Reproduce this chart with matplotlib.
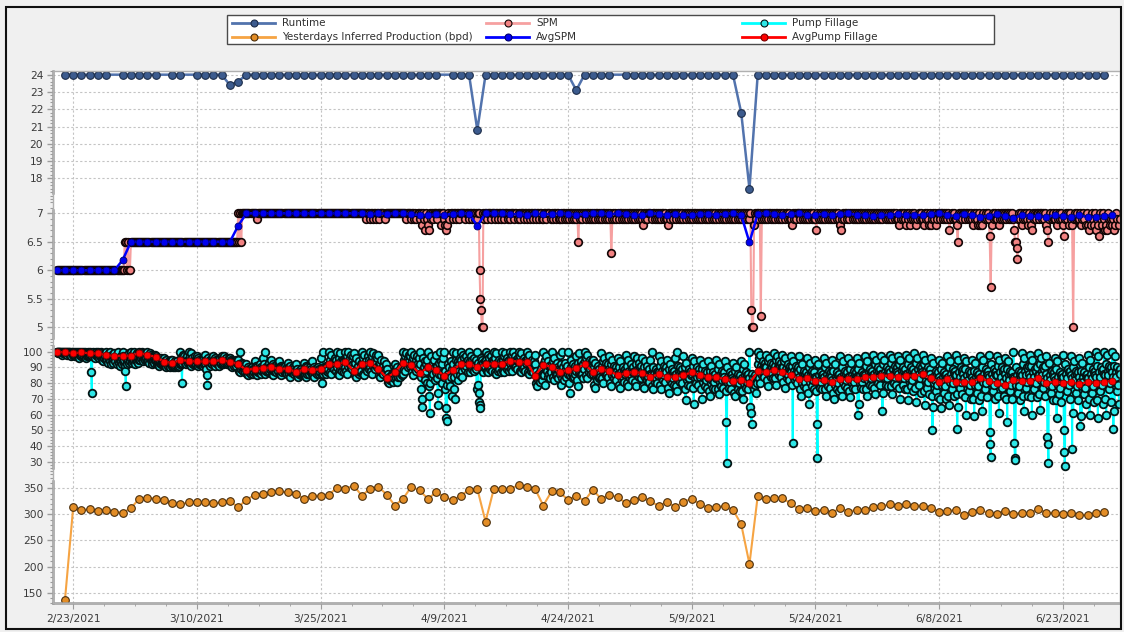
import numpy as np
import matplotlib
matplotlib.use("Agg")
import matplotlib.pyplot as plt
import matplotlib.dates as mdates
from matplotlib.lines import Line2D
from matplotlib.patches import Rectangle
from matplotlib.ticker import FixedLocator, AutoMinorLocator, FuncFormatter

# ---- data -------------------------------------------------------------
# daily series starting 2021-02-22 (None = no reading that day)
daily_start = "2021-02-22"
runtime = [
    24, 24, 24, 24, 24, 24, None, 24, 24, 24, 24, 24, None, 24, 24, None,
    24, 24, 24, 24, 23.4, 23.6, 24, 24, 24, 24, 24, 24, 24, 24, 24, 24,
    24, 24, 24, 24, 24, 24, 24, 24, 24, 24, 24, 24, 24, 24, None, 24,
    24, 24, 20.8, 24, 24, 24, 24, 24, 24, 24, 24, 24, 24, 24, 23.1, 24,
    24, 24, 24, None, 24, 24, 24, 24, 24, 24, 24, 24, 24, 24, 24, 24,
    24, 24, 21.8, 17.4, 24, 24, 24, 24, 24, 24, 24, 24, 24, 24, 24, 24,
    24, 24, 24, 24, 24, 24, 24, 24, 24, 24, 24, 24, 24, 24, 24, 24,
    24, 24, 24, 24, 24, 24, 24, 24, 24, 24, 24, 24, 24, 24, 24,
]
production = [
    136, 314, 308, 310, 306, 308, 305, 303, 312, 330, 332, 330, 327, 321,
    319, 323, 323, 323, 321, 323, 325, 314, 328, 337, 339, 342, 344, 342,
    339, 330, 336, 336, 338, 351, 349, 355, 336, 349, 353, 338, 317, 330,
    353, 346, 330, 342, 334, 327, 336, 347, 349, 286, 349, 349, 349, 356,
    353, 349, 317, 344, 342, 328, 335, 326, 347, 330, 337, 333, 322, 327,
    333, 325, 316, 324, 314, 324, 330, 320, 312, 314, 316, 309, 281, 205,
    335, 329, 331, 331, 321, 310, 312, 307, 309, 303, 312, 305, 309, 309,
    314, 316, 319, 317, 319, 317, 317, 312, 305, 306, 309, 299, 305, 308,
    303, 301, 307, 301, 303, 303, 310, 303, 303, 301, 303, 299, 299, 303,
    305,
]

# daily averages starting 2021-02-21
avg_start = "2021-02-21"
avg_spm = [
    6.0, 6.0, 6.0, 6.0, 6.0, 6.0, 6.0, 6.0, 6.18, 6.5, 6.5, 6.5, 6.5, 6.5,
    6.5, 6.5, 6.5, 6.5, 6.5, 6.5, 6.5, 6.5, 6.78, 7.0, 7.0, 7.0, 7.0, 7.0,
    7.0, 7.0, 7.0, 7.0, 7.0, 7.0, 7.0, 7.0, 7.0, 7.0, 6.98, 7.0, 6.99, 7.0,
    7.0, 6.98, 6.97, 6.97, 6.98, 6.97, 6.99, 7.0, 6.99, 6.78, 7.0, 7.0, 7.0,
    6.98, 6.99, 6.97, 7.0, 6.98, 6.99, 7.0, 6.99, 6.97, 6.99, 7.0, 7.0,
    6.98, 7.0, 6.99, 6.97, 6.97, 7.0, 6.99, 6.97, 6.99, 6.97, 6.97, 6.99,
    6.99, 6.97, 6.99, 7.0, 6.97, 6.49, 6.99, 7.0, 6.99, 6.97, 6.99, 7.0,
    6.97, 6.97, 6.99, 6.97, 6.99, 7.0, 6.97, 6.97, 6.95, 6.97, 6.97, 6.99,
    6.97, 6.97, 6.97, 6.99, 7.0, 6.97, 6.95, 6.99, 6.97, 6.94, 6.95, 6.99,
    6.95, 6.91, 6.97, 6.95, 6.95, 6.93, 6.97, 6.95, 6.93, 6.97, 6.93, 6.94,
    6.95, 6.97,
]
avg_fill = [
    100, 99.6, 98.9, 99.6, 98.9, 98.9, 97.9, 97.2, 97.5, 97.2, 99.4, 97.8,
    96.8, 93.6, 93, 94.7, 94.2, 93.8, 93.8, 94, 94.7, 93.6, 92.2, 88.3,
    89.2, 89.5, 90, 89.2, 89.2, 87.1, 88.8, 88.5, 88.8, 92.2, 91.9, 93.6,
    87.9, 92.2, 93, 89, 83.5, 86.8, 93, 91.5, 86.2, 90, 88.5, 84.7, 88.5,
    91.9, 92.2, 90, 92.2, 92.4, 92.4, 94.3, 93.6, 93.4, 84.7, 91.5, 90.5,
    87, 88.3, 89.4, 91.9, 87.3, 88.8, 87.7, 85.2, 86.2, 87.3, 86.2, 84.1,
    85.6, 84.1, 84.1, 85.2, 86.8, 85.2, 83.7, 83.7, 82.6, 81.5, 82, 79.8,
    87.5, 87.1, 88.3, 86.8, 85.2, 82.4, 83, 81.5, 82, 80.9, 82.6, 82.4,
    82.4, 83.7, 84.1, 84.7, 84.7, 83.7, 84.7, 84.7, 85.6, 83, 80.9, 82.4,
    80.9, 80.5, 80.9, 83, 81.5, 79.8, 78.8, 82, 81.5, 81.5, 83.5, 80.3,
    80.9, 80.3, 80.9, 79.2, 80.9, 80.3, 80.9, 81.5,
]

# within-day readings, one string per day starting 2021-02-21
spm_readings = [
    "6 6 6 6 6 6 6 6", "6 6 6 6 6 6 6 6", "6 6 6 6 6 6 6 6",
    "6 6 6 6 6 6 6 6", "6 6 6 6 6 6 6 6", "6 6 6 6 6 6 6 6",
    "6 6 6 6 6 6 6 6", "6 6 6 6 6 6 6 6", "6 6 6.5 6.5 6 6.5 6 6",
    "6.5 6.5 6.5 6.5 6.5 6.5 6.5 6.5", "6.5 6.5 6.5 6.5 6.5 6.5 6.5 6.5",
    "6.5 6.5 6.5 6.5 6.5 6.5 6.5 6.5", "6.5 6.5 6.5 6.5 6.5 6.5 6.5 6.5",
    "6.5 6.5 6.5 6.5 6.5 6.5 6.5 6.5", "6.5 6.5 6.5 6.5 6.5 6.5 6.5 6.5",
    "6.5 6.5 6.5 6.5 6.5 6.5 6.5 6.5", "6.5 6.5 6.5 6.5 6.5 6.5 6.5 6.5",
    "6.5 6.5 6.5 6.5 6.5 6.5 6.5 6.5", "6.5 6.5 6.5 6.5 6.5 6.5 6.5 6.5",
    "6.5 6.5 6.5 6.5 6.5 6.5 6.5 6.5", "6.5 6.5 6.5 6.5 6.5 6.5 6.5 6.5",
    "6.5 6.5 6.5 6.5 6.5 6.5 6.5 6.5", "7 6.5 7 6.5 7 7 7 7",
    "7 7 7 7 7 7 7 7", "7 7 6.9 7 7 7 7 7", "7 7 7 7 7 7 7 7",
    "7 7 7 7 7 7 7 7", "7 7 7 7 7 7 7 7", "7 7 7 7 7 7 7 7",
    "7 7 7 7 7 7 7 7", "7 7 7 7 7 7 7 7", "7 7 7 7 7 7 7 7",
    "7 7 7 7 7 7 7 7", "7 7 7 7 7 7 7 7", "7 7 7 7 7 7 7 7",
    "7 7 7 7 7 7 7 7", "7 7 7 7 7 7 7 7", "7 7 7 7 6.9 7 7 7",
    "6.9 7 7 6.9 7 7 6.9 7", "7 6.9 7 7 7 7 6.9 7", "7 7 7 7 7 7 7 7",
    "7 7 7 7 7 7 7 7", "7 7 7 6.9 7 7 7 7", "6.9 7 7 6.9 7 6.9 7 7",
    "6.9 7 6.8 7 6.9 6.7 7 6.9", "6.8 6.7 7 6.9 7 6.9 7 7",
    "7 6.9 7 7 7 6.8 7 7", "6.9 6.8 6.7 6.8 7 6.9 7 7",
    "6.9 7 7 6.9 7 7 6.9 7", "7 7 7 7 6.9 7 7 7", "6.9 7 7 6.9 7 7 6.9 7",
    "6.9 7 7 6 5.5 5.3 5 5 7 6.9 7", "7 6.9 7 7 7 6.9 7 7",
    "7 6.9 7 7 6.9 7 7 6.9", "7 7 6.9 7 7 7 6.9 7", "6.9 7 7 7 6.9 7 7 6.9",
    "7 6.9 7 7 7 6.9 7 7", "6.9 7 7 6.9 7 7 6.9 7", "7 6.9 7 7 6.9 7 7 6.9",
    "6.9 7 7 6.9 7 7 7 6.9", "7 6.9 7 7 6.9 7 7 6.9",
    "6.9 7 6.9 7 7 6.9 7 6.9", "7 6.9 7 7 6.9 7 6.9 7",
    "6.9 7 6.5 7 6.9 7 6.9 7", "7 6.9 7 7 6.9 7 6.9 7",
    "6.9 7 6.9 7 7 6.9 7 6.9", "7 6.9 7 7 6.9 7 6.9 7",
    "6.9 7 6.3 6.9 7 6.9 7 6.9", "7 6.9 7 7 6.9 7 6.9 7",
    "6.9 7 6.9 7 7 6.9 7 6.9", "7 6.9 7 7 6.9 7 6.9 7",
    "6.9 6.8 7 6.9 7 6.9 7 7", "7 6.9 7 7 6.9 7 6.9 7",
    "6.9 7 6.9 7 7 6.9 7 6.9", "6.9 6.8 7 6.9 7 7 6.9 7",
    "7 6.9 7 7 6.9 7 6.9 7", "6.9 7 6.9 7 7 6.9 7 6.9",
    "7 6.9 7 7 6.9 7 6.9 7", "6.9 7 6.9 7 7 6.9 7 6.9",
    "7 6.9 7 7 6.9 7 6.9 7", "6.9 7 6.9 7 7 6.9 7 6.9",
    "7 6.9 7 7 6.9 7 6.9 7", "6.9 7 6.9 7 7 6.9 7 6.9",
    "7 6.9 7 7 6.9 7 6.9 7", "6.9 7 5.3 5 5 6.8 7 6.9 7",
    "7 6.9 7 5.2 6.9 7 6.9 7", "6.9 7 6.9 7 7 6.9 7 6.9",
    "7 6.9 7 7 6.9 7 6.9 7", "6.9 7 6.9 7 7 6.9 7 6.9",
    "6.9 6.8 7 6.9 7 6.9 7 7", "7 6.9 7 7 6.9 7 6.9 7",
    "6.9 7 6.9 7 7 6.9 7 6.9", "6.9 6.7 7 6.9 7 6.9 7 6.9",
    "7 6.9 7 7 6.9 7 6.9 7", "6.9 7 6.9 7 7 6.9 7 6.9",
    "6.8 6.7 6.9 7 6.9 7 7 6.9", "7 6.9 7 7 6.9 7 6.9 7",
    "6.9 7 6.9 7 7 6.9 7 6.9", "7 6.9 7 7 6.9 7 6.9 7",
    "6.9 7 6.9 7 7 6.9 7 6.9", "7 6.9 7 7 6.9 7 6.9 7",
    "6.9 7 6.9 7 7 6.9 7 6.9", "6.9 6.8 7 6.9 7 6.9 7 6.9",
    "6.8 7 6.9 7 6.8 6.9 7 6.9", "7 6.9 6.8 6.9 7 6.9 7 6.9",
    "6.9 6.8 7 6.9 7 6.9 6.8 7", "6.8 6.9 7 6.9 7 6.8 6.9 7",
    "7 6.9 7 7 6.9 7 6.9 7", "6.9 7 6.7 6.9 7 6.9 7 6.9",
    "6.9 6.8 6.5 7 6.9 7 6.9 7", "7 6.9 7 7 6.9 7 6.9 7",
    "6.9 6.8 7 6.9 7 6.9 6.8 7", "6.8 6.9 6.8 7 6.9 7 6.9 7",
    "6.9 6.6 5.7 6.8 7 6.9 7 6.9", "6.9 7 6.8 6.9 7 6.9 7 6.9",
    "7 6.9 7 7 6.9 7 6.9 7", "6.9 6.7 6.5 6.5 6.4 6.2 6.9 7 6.9 7",
    "6.8 6.9 7 6.9 7 6.9 6.8 7", "6.9 6.8 6.7 7 6.9 7 6.9 7",
    "7 6.9 7 7 6.9 7 6.9 7", "6.8 6.7 6.5 6.9 7 6.9 7 6.9",
    "6.9 7 6.8 6.9 7 6.9 7 6.9", "6.8 6.6 6.9 7 6.9 7 6.8 7",
    "6.9 6.8 5 6.9 7 6.9 7 6.9", "6.9 7 6.8 6.9 7 6.9 6.8 7",
    "6.8 6.7 6.9 6.8 7 6.9 6.8 7", "6.7 6.9 6.8 6.6 7 6.9 6.8 7",
    "6.9 6.7 6.8 6.7 7 6.9 6.8 6.9", "6.8 6.9 6.7 6.8 7 6.9 6.8 6.9",
]
fill_readings = [
    "100 100 100 99 100 100 99 100 99 100 98 100 99 100 99 100",
    "100 99 100 98 100 99 100 100 99 98 100 99 97 100 99 98",
    "100 98 99 97 100 99 98 100 99 97 98 100 96 99 98 97",
    "100 99 98 100 97 99 100 99 98 96 99 97 100 98 97 99",
    "100 98 99 87 74 97 99 100 98 97 99 96 98 100 97 98",
    "100 98 96 99 97 100 98 99 95 97 94 98 96 99 97 95",
    "100 97 95 98 93 99 96 100 94 97 92 96 98 95 93 97",
    "99 96 94 97 92 98 95 100 93 96 91 95 97 94 92 96",
    "100 97 93 95 91 88 78 96 94 92 97 95 99 93 96 94",
    "100 96 93 98 94 100 95 97 92 95 97 94 99 96 93 95",
    "100 98 95 99 96 100 97 99 94 96 98 95 97 99 96 94",
    "100 96 94 97 93 99 95 98 92 95 97 94 96 93 98 95",
    "97 95 92 96 93 94 91 95 93 94 96 92 95 93 94 92",
    "96 93 91 94 90 95 92 93 91 92 94 90 93 95 92 91",
    "95 92 90 93 91 94 90 92 91 93 94 92 90 93 91 92",
    "100 96 92 80 93 98 94 97 95 93 96 92 94 97 93 95",
    "100 95 92 97 91 99 93 96 94 92 95 93 97 94 92 95",
    "97 94 91 96 92 95 93 94 92 95 93 91 94 96 92 93",
    "98 95 89 85 79 96 93 94 92 95 91 94 93 96 92 94",
    "97 94 92 96 91 95 93 94 92 95 93 91 94 96 92 93",
    "97 95 92 96 93 97 94 95 93 96 92 94 95 93 96 94",
    "96 93 91 95 90 94 92 94 91 93 92 95 91 93 94 92",
    "95 92 88 100 87 91 89 93 90 88 92 89 91 87 90 89",
    "92 88 86 90 85 89 87 89 88 86 90 87 89 86 88 87",
    "94 89 86 91 85 90 87 88 89 87 92 88 90 86 89 88",
    "96 90 87 92 86 100 88 90 89 91 87 93 88 90 89 91",
    "95 89 86 92 85 91 88 90 88 90 87 92 89 91 88 90",
    "94 90 86 91 85 90 87 89 88 90 87 91 88 89 86 90",
    "93 89 86 90 84 91 87 88 89 87 90 88 86 89 87 90",
    "92 88 85 89 84 87 86 88 87 85 89 86 88 86 87 85",
    "93 89 85 91 84 90 86 88 87 89 86 90 88 87 89 86",
    "94 88 85 90 84 89 87 89 88 86 90 87 89 86 88 87",
    "96 89 85 80 86 100 88 90 87 89 86 91 88 90 87 89",
    "100 92 87 95 86 98 90 93 91 94 89 96 92 88 95 90",
    "100 93 86 96 85 99 89 94 90 92 88 95 91 87 94 90",
    "100 95 88 97 86 100 91 95 93 96 90 98 94 89 97 92",
    "99 90 85 93 84 96 87 89 88 91 86 94 89 87 92 88",
    "100 93 86 96 85 98 90 92 91 94 88 97 92 89 95 90",
    "100 94 88 97 86 99 91 93 92 95 89 98 93 90 96 91",
    "98 91 85 93 84 95 87 89 88 91 86 94 89 87 92 88",
    "89 85 81 86 80 84 82 83 84 82 86 83 85 81 84 83",
    "92 87 83 89 81 90 84 88 86 88 84 90 87 85 89 86",
    "100 95 89 97 88 99 92 94 93 96 90 98 94 91 97 92",
    "100 94 87 96 85 98 90 92 91 95 88 97 93 89 96 90",
    "100 92 84 76 70 65 88 96 90 86 94 82 92 88 95 80",
    "100 90 78 72 61 80 91 97 88 84 93 86 95 82 90 87",
    "98 91 83 74 66 86 93 100 89 85 94 80 92 87 96 84",
    "100 88 76 64 58 56 79 92 86 82 90 78 94 84 89 72",
    "100 92 84 76 70 88 95 99 90 86 94 82 92 88 96 85",
    "100 95 88 84 92 98 90 96 93 89 97 91 94 87 95 92",
    "100 94 87 91 97 89 95 92 90 96 88 93 91 95 89 76",
    "100 93 79 74 68 66 64 96 92 89 95 87 93 90 94 91",
    "100 95 88 93 87 98 91 96 92 89 97 90 94 88 95 93",
    "100 94 87 96 86 99 90 93 91 88 95 89 93 87 94 92",
    "100 95 88 97 87 99 91 94 92 89 96 90 94 88 95 93",
    "100 96 89 98 88 100 92 95 93 90 97 91 95 89 96 94",
    "100 95 88 97 87 99 91 94 92 89 96 90 94 88 95 93",
    "100 94 87 96 86 98 90 93 91 88 95 89 93 87 94 92",
    "98 88 80 85 78 84 82 86 83 87 81 89 84 82 86 85",
    "100 93 85 95 79 97 89 92 88 84 94 86 91 83 90 87",
    "100 92 84 94 82 96 88 91 87 85 93 86 90 83 89 88",
    "98 86 79 92 83 100 88 90 85 82 93 87 89 84 91 86",
    "100 88 80 74 85 95 90 86 87 83 92 89 84 91 86 88",
    "97 90 82 93 78 99 87 91 88 85 94 86 90 83 92 89",
    "100 94 85 96 83 98 90 93 91 87 95 89 92 86 94 90",
    "95 86 79 90 77 93 84 88 85 82 91 87 83 89 86 84",
    "99 91 83 94 80 96 87 90 88 85 93 86 90 84 92 89",
    "97 88 80 92 78 95 85 89 87 83 91 86 89 82 90 88",
    "96 86 79 90 77 94 84 87 85 82 90 84 88 81 89 86",
    "98 87 80 91 78 95 85 88 86 83 92 85 89 82 90 87",
    "97 88 81 92 78 96 86 89 87 84 93 86 90 83 91 88",
    "96 86 78 90 77 94 84 87 85 82 91 84 88 81 89 86",
    "95 85 78 100 76 90 83 86 84 81 89 83 87 80 88 85",
    "97 87 79 91 76 94 84 88 86 82 91 85 89 81 90 87",
    "95 84 77 89 74 92 82 86 84 80 89 83 87 79 88 85",
    "96 86 78 100 75 91 83 87 85 81 90 84 88 80 89 86",
    "97 85 76 90 69 93 82 86 84 79 89 83 87 78 88 85",
    "96 86 77 91 67 94 83 87 85 80 90 84 88 79 89 86",
    "95 84 76 89 70 92 81 85 83 78 88 82 86 77 87 84",
    "94 83 75 88 72 91 80 84 82 77 87 81 85 76 86 83",
    "95 84 76 89 73 92 81 85 83 78 88 82 86 77 87 84",
    "94 82 75 55 29 90 80 84 82 77 87 81 85 76 86 83",
    "93 82 74 88 72 90 80 84 81 76 86 80 84 75 85 82",
    "94 83 75 89 70 92 80 85 82 77 87 81 85 76 86 83",
    "100 80 65 61 54 86 78 83 81 76 85 79 83 74 84 80",
    "100 92 83 96 80 98 88 91 89 85 94 87 91 84 93 90",
    "98 90 82 94 78 96 86 89 88 84 93 86 90 83 92 89",
    "99 91 83 95 79 97 87 90 89 85 94 87 91 84 93 90",
    "98 90 81 94 77 96 86 89 87 83 92 85 89 82 91 88",
    "97 87 79 91 42 94 83 88 86 82 91 84 88 80 90 87",
    "97 84 76 89 72 92 80 85 83 78 88 81 86 77 87 84",
    "96 85 74 90 67 93 81 86 83 78 88 82 86 76 87 84",
    "95 83 75 54 32 92 80 85 82 77 87 81 85 76 86 83",
    "96 84 76 90 72 93 81 86 83 78 88 82 86 77 87 84",
    "95 82 74 88 70 92 79 84 82 76 87 80 85 75 86 83",
    "97 84 76 90 72 94 81 86 83 78 88 82 86 77 87 84",
    "96 84 75 89 71 93 80 85 83 77 88 81 86 76 87 84",
    "96 83 60 89 67 93 80 85 82 77 87 81 85 76 86 83",
    "97 85 76 91 72 94 82 87 84 79 89 83 87 78 88 85",
    "98 86 77 92 73 95 83 88 85 80 90 84 88 79 89 86",
    "97 86 62 92 74 95 83 87 85 79 90 83 88 78 89 86",
    "98 87 78 93 73 96 84 89 86 80 91 84 88 79 90 87",
    "97 86 77 92 70 95 83 88 85 79 90 83 88 76 89 86",
    "98 86 76 92 69 96 83 88 85 78 90 82 88 75 89 86",
    "99 87 77 93 68 96 84 89 86 79 91 83 89 74 90 87",
    "98 86 75 92 66 95 82 88 85 77 90 81 88 73 89 86",
    "96 83 72 50 65 93 80 85 82 75 88 79 86 71 87 84",
    "95 82 70 89 64 93 79 84 81 74 87 78 85 70 86 83",
    "97 84 72 90 66 94 81 86 83 76 89 80 87 72 88 85",
    "98 85 73 51 65 95 82 87 84 77 90 81 88 73 89 86",
    "96 83 71 89 60 94 80 85 82 75 88 79 86 70 87 84",
    "95 82 70 88 59 93 79 84 81 74 87 78 85 69 86 83",
    "97 84 72 90 62 95 81 86 83 76 89 80 87 71 88 85",
    "98 84 49 41 33 92 80 86 83 75 89 79 87 70 88 85",
    "97 85 72 91 61 95 82 87 84 77 90 81 88 72 89 86",
    "96 83 70 89 55 94 80 85 82 75 88 79 86 70 87 84",
    "100 83 42 32 31 90 79 85 82 74 88 78 86 69 87 84",
    "99 85 72 92 62 96 82 88 85 77 90 81 89 72 91 86",
    "98 84 71 91 60 95 81 87 84 76 89 80 88 71 90 85",
    "99 85 73 92 63 96 82 88 85 77 90 81 89 72 91 86",
    "97 83 46 41 29 93 79 85 82 74 88 78 86 69 87 84",
    "96 82 69 89 58 94 79 84 81 73 87 77 85 68 86 83",
    "98 84 50 36 27 92 80 86 83 75 89 79 87 70 88 85",
    "97 83 38 90 61 94 80 85 82 74 88 78 86 69 87 84",
    "96 81 53 88 59 93 78 84 81 73 87 77 85 67 86 83",
    "98 83 70 90 60 95 80 86 83 74 89 78 87 68 88 85",
    "100 84 69 91 58 97 81 87 84 75 90 79 88 67 89 86",
    "100 85 70 92 60 98 82 88 85 76 91 80 89 68 90 87",
    "100 84 51 91 62 97 81 87 84 75 90 79 88 67 89 86",
]

legend_labels = ["Runtime", "Yesterdays Inferred Production (bpd)", "SPM",
                 "AvgSPM", "Pump Fillage", "AvgPump Fillage"]


def spread(day_strings, first):
    # place each day's readings evenly through that day
    xs, ys = [], []
    for i, s in enumerate(day_strings):
        vals = [float(v) for v in s.split()]
        for k, v in enumerate(vals):
            xs.append(first + i + k / len(vals))
            ys.append(v)
    return np.array(xs), np.array(ys)


d_daily = mdates.datestr2num(daily_start)
d_avg = mdates.datestr2num(avg_start)
d_tick = mdates.datestr2num("2021-02-23")

x_rt = [d_daily + i for i, v in enumerate(runtime) if v is not None]
y_rt = [v for v in runtime if v is not None]
x_prod = d_daily + np.arange(len(production))
x_avg = d_avg + np.arange(len(avg_spm))
x_spm, y_spm = spread(spm_readings, d_avg)
x_fill, y_fill = spread(fill_readings, d_avg)

# ---- styles -------------------------------------------------------------
st_rt = dict(color="#5273ad", lw=1.8, marker="o", ms=5.5, mfc="#3c5b8e", mec="#1c2c48", mew=0.8)
st_prod = dict(color="#f6a443", lw=1.5, marker="o", ms=5.5, mfc="#e38d26", mec="#4a2e0c", mew=0.8)
st_spm = dict(color="#f6a0a0", lw=1.5, marker="o", ms=5.5, mfc="#f28282", mec="#120505", mew=1.2)
st_aspm = dict(color="#0000ff", lw=1.8, marker="o", ms=5, mfc="#0000f0", mec="#00006a", mew=0.6)
st_fill = dict(color="#00ffff", lw=1.5, marker="o", ms=5.5, mfc="#2ee6e6", mec="#031414", mew=1.3)
st_afill = dict(color="#ff0000", lw=1.6, marker="o", ms=5, mfc="#ff0000", mec="#7a0000", mew=0.6)

W, H = 1124, 632
L, R = 53, 1120
edges = [70.7, 201, 342, 474.5, 603.3]
ylims = [(16.69, 24.23), (4.742, 7.216), (21.8, 106.2), (129.7, 376.4)]
spine_bounds = [(17.17, 24.23), (4.81, 7.06), (25.8, 103.6), (129.7, 364)]
yticks = [np.arange(18, 25, 1), [5, 5.5, 6, 6.5, 7], np.arange(30, 101, 10),
          np.arange(150, 351, 50)]
xlim = (d_tick - 2.45, d_tick + 126.93)

fig = plt.figure(figsize=(W / 100, H / 100), dpi=100, facecolor="#f0f0f0")
axes = []
for i in range(4):
    top, bot = edges[i], edges[i + 1]
    ax = fig.add_axes([L / W, 1 - bot / H, (R - L) / W, (bot - top) / H])
    ax.set_facecolor("white")
    for s in ("top", "bottom", "right"):
        ax.spines[s].set_visible(False)
    ax.spines["left"].set_color("#9c9c9c")
    ax.spines["left"].set_linewidth(1.8)
    ax.spines["left"].set_bounds(*spine_bounds[i])
    ax.set_xlim(*xlim)
    ax.set_ylim(*ylims[i])
    ax.yaxis.set_major_locator(FixedLocator(yticks[i]))
    ax.yaxis.set_minor_locator(AutoMinorLocator(5))
    ax.yaxis.set_major_formatter(FuncFormatter(lambda v, p: f"{v:g}"))
    ax.xaxis.set_major_locator(FixedLocator(d_tick + np.arange(0, 127, 15)))
    ax.xaxis.set_minor_locator(FixedLocator(d_tick + np.arange(0, 127, 3.75)))
    ax.grid(True, which="major", color="#c4c4c4", ls=(0, (2, 2)), lw=0.8)
    ax.set_axisbelow(True)
    ax.tick_params(axis="y", which="major", length=4, width=1, color="#9c9c9c",
                   labelsize=7.7, labelcolor="#3a3a3a", pad=3)
    ax.tick_params(axis="y", which="minor", length=2, width=0.8, color="#9c9c9c")
    ax.tick_params(axis="x", which="both", bottom=False, labelbottom=False)
    axes.append(ax)

ax_rt, ax_spm, ax_fill, ax_prod = axes
ax_rt.plot(x_rt, y_rt, **st_rt)
ax_spm.plot(x_spm, y_spm, **st_spm)
ax_spm.plot(x_avg, avg_spm, **st_aspm)
ax_fill.plot(x_fill, y_fill, **st_fill)
ax_fill.plot(x_avg, avg_fill, **st_afill)
ax_prod.plot(x_prod, production, **st_prod)

ax_prod.spines["bottom"].set_visible(True)
ax_prod.spines["bottom"].set_color("#9c9c9c")
ax_prod.spines["bottom"].set_linewidth(1.8)
ax_prod.tick_params(axis="x", which="major", bottom=True, labelbottom=True, length=4,
                    color="#9c9c9c", labelsize=7.7, labelcolor="#3a3a3a", pad=4)
ax_prod.tick_params(axis="x", which="minor", bottom=True, length=2, color="#9c9c9c")


def date_label(v, pos):
    d = mdates.num2date(v)
    return f"{d.month}/{d.day}/{d.year}"


ax_prod.xaxis.set_major_formatter(FuncFormatter(date_label))

# overlay in pixel units for frame and legend
ov = fig.add_axes([0, 0, 1, 1], zorder=10)
ov.set_xlim(0, W)
ov.set_ylim(H, 0)
ov.axis("off")
ov.patch.set_alpha(0)
ov.add_patch(Rectangle((L, edges[0]), R - L, edges[-1] - edges[0], fill=False,
                       ec="#b0b0b0", lw=1))
ov.add_patch(Rectangle((6, 7), 1115, 622, fill=False, ec="#101010", lw=1.5))

ov.add_patch(Rectangle((227, 15), 767, 29, fc="white", ec="#4a4a4a", lw=1))
styles = [st_rt, st_prod, st_spm, st_aspm, st_fill, st_afill]
col_x = [232, 486, 742]
row_y = [23.3, 36.7]
for j, (lab, st) in enumerate(zip(legend_labels, styles)):
    c, r = j // 2, j % 2
    x0 = col_x[c]
    ov.add_line(Line2D([x0, x0 + 43], [row_y[r], row_y[r]], color=st["color"], lw=2))
    ov.add_line(Line2D([x0 + 21.5], [row_y[r]], marker="o", ms=5, mfc=st["mfc"],
                       mec=st["mec"], mew=0.8, ls="none"))
    ov.text(x0 + 50, row_y[r], lab, fontsize=7.5, color="#303030", va="center",
            ha="left")

fig.savefig("out.png", dpi=100, facecolor=fig.get_facecolor())
